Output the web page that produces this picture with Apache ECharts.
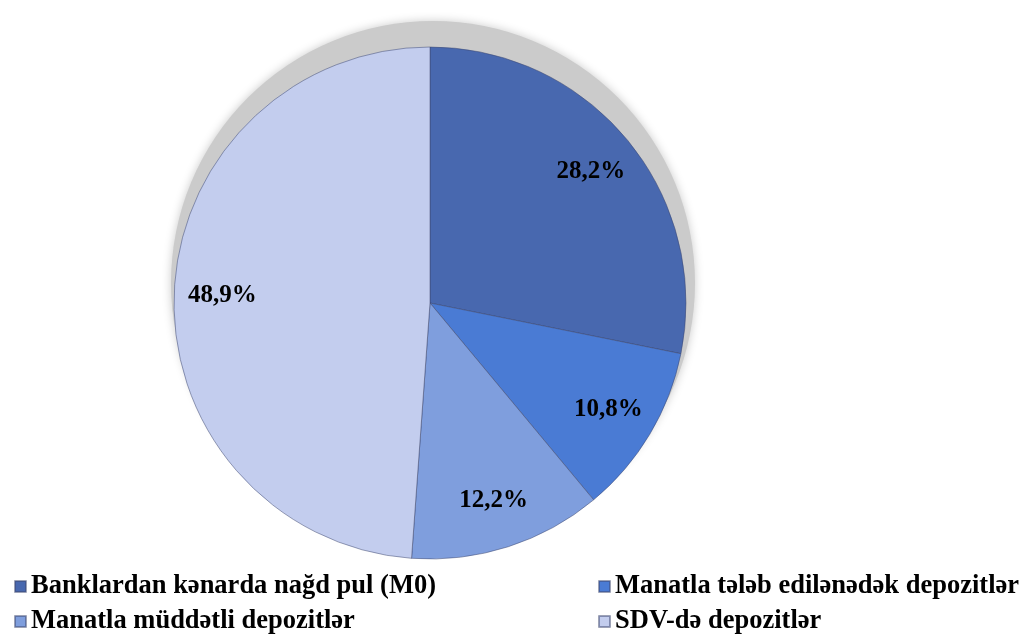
<!DOCTYPE html>
<html>
<head>
<meta charset="utf-8">
<script src="https://cdn.jsdelivr.net/npm/echarts@6/dist/echarts.min.js"></script>
<style>
  html, body { margin: 0; padding: 0; background: #fff; }
</style>
</head>
<body>
<div id="main" style="width:1029px;height:639px;"></div>
<script>
// kateqoriyalar və paylar (%)
const categories = [
  'Banklardan kənarda nağd pul (M0)',
  'Manatla tələb edilənədək depozitlər',
  'Manatla müddətli depozitlər',
  'SDV-də depozitlər'
]
const shares = [28.2, 10.8, 12.2, 48.9]
const colors = ['#4868AF', '#4A7BD4', '#7F9EDD', '#C3CDEE']

const center = [430, 303]
const R = 256

const chart = echarts.init(document.getElementById('main'))
const legendText = {
  fontFamily: 'Liberation Serif',
  fontWeight: 'bold',
  fontSize: 26.5,
  color: '#000'
}
const legendBase = {
  orient: 'vertical',
  top: 573,
  height: 80,
  padding: 0,
  icon: 'rect',
  itemWidth: 11,
  itemHeight: 11,
  itemGap: 8,
  textStyle: legendText,
  selectedMode: false
}
chart.setOption({
  animation: false,
  color: colors,
  legend: [
    Object.assign({ data: [categories[0], categories[2]], left: 14 }, legendBase),
    Object.assign({ data: [categories[1], categories[3]], left: 598 }, legendBase)
  ],
  series: [
    {
      // kölgə
      type: 'pie',
      center: [center[0] + 3, center[1] - 20],
      radius: R + 6,
      silent: true,
      legendHoverLink: false,
      z: 1,
      data: [{ name: '', value: 1 }],
      itemStyle: {
        color: '#cbcbcb',
        shadowColor: '#cbcbcb',
        shadowBlur: 10
      },
      label: { show: false },
      labelLine: { show: false },
      emphasis: { disabled: true }
    },
    {
      type: 'pie',
      center: center,
      radius: R,
      startAngle: 90,
      clockwise: true,
      z: 2,
      data: categories.map((name, i) => ({ name: name, value: shares[i] })),
      label: { show: false },
      labelLine: { show: false },
      itemStyle: {
        borderColor: 'rgba(60,70,110,0.5)',
        borderWidth: 1
      },
      emphasis: { disabled: true }
    },
    {
      // üst qat: yalnız faiz yazıları üçün
      type: 'pie',
      center: center,
      radius: [R * 0.6, R],
      startAngle: 90,
      clockwise: true,
      silent: true,
      legendHoverLink: false,
      z: 3,
      data: categories.map((name, i) => ({ name: name, value: shares[i] })),
      itemStyle: { color: 'rgba(0,0,0,0)' },
      label: {
        show: true,
        position: 'inside',
        formatter: p => p.value.toFixed(1).replace('.', ',') + '%',
        fontFamily: 'Liberation Serif',
        fontWeight: 'bold',
        fontSize: 25,
        color: '#000'
      },
      labelLine: { show: false },
      emphasis: { disabled: true }
    }
  ]
})
</script>
</body>
</html>
